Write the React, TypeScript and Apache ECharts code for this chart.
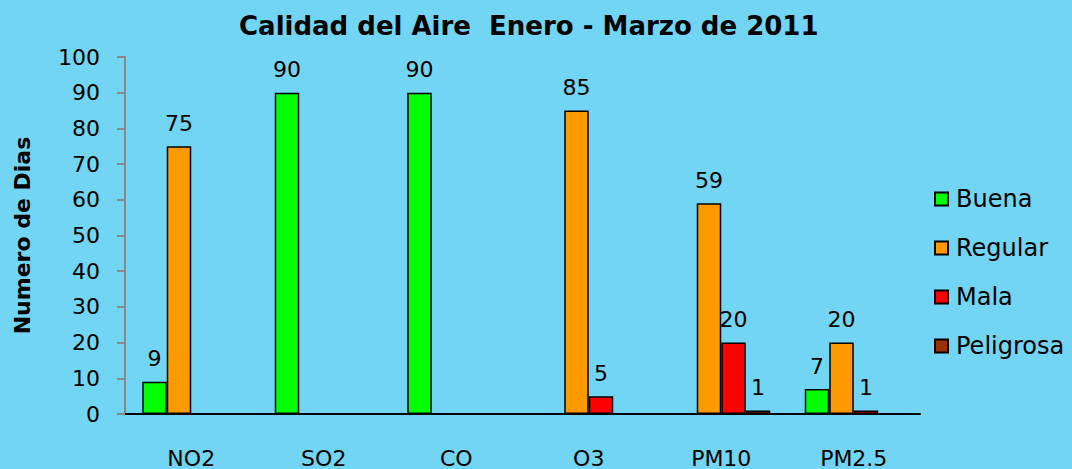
import React, { useEffect, useRef } from "react";
import * as echarts from "echarts";

const categories = ["NO2", "SO2", "CO", "O3", "PM10", "PM2.5"];
const buena = [9, 90, 90, 0, 0, 7];
const regular = [75, 0, 0, 85, 59, 20];
const mala = [0, 0, 0, 5, 20, 1];
const peligrosa = [0, 0, 0, 0, 1, 0];
const seriesNames = ["Buena", "Regular", "Mala", "Peligrosa"];
const seriesColors = ["#00FF00", "#FF9900", "#FF0000", "#993300"];
const yTicks = { min: 0, max: 100, interval: 10 };
const titleText = "Calidad del Aire  Enero - Marzo de 2011";
const yAxisName = "Numero de Dias";

const FONT = "DejaVu Sans";

export default function App() {
  const ref = useRef<HTMLDivElement>(null);
  useEffect(() => {
    if (!ref.current) return;
    const chart = echarts.init(ref.current, null, { renderer: "svg" });
    const all = [buena, regular, mala, peligrosa];
    chart.setOption({
      animation: false,
      backgroundColor: "#71D5F3",
      title: {
        text: titleText,
        left: 234,
        top: 8,
        textStyle: { fontFamily: FONT, fontSize: 26, fontWeight: "bold", color: "#000" },
      },
      legend: {
        orient: "vertical",
        left: 929,
        top: 182,
        itemWidth: 13,
        itemHeight: 13,
        itemGap: 25,
        icon: "rect",
        textStyle: { fontFamily: FONT, fontSize: 24, color: "#000", padding: [4, 0, 0, 3] },
        data: seriesNames,
      },
      grid: { left: 125, right: 152, top: 57, bottom: 55, containLabel: false },
      xAxis: {
        type: "category",
        data: categories,
        axisLine: { lineStyle: { color: "#000", width: 2 } },
        axisTick: { show: false },
        axisLabel: { fontFamily: FONT, fontSize: 22, color: "#000", margin: 33 },
      },
      yAxis: {
        type: "value",
        min: yTicks.min,
        max: yTicks.max,
        interval: yTicks.interval,
        name: yAxisName,
        nameLocation: "middle",
        nameRotate: 90,
        nameGap: 92,
        nameTextStyle: { fontFamily: FONT, fontSize: 22, fontWeight: "bold", color: "#000" },
        splitLine: { show: false },
        axisLine: { show: true, lineStyle: { color: "#888", width: 2 } },
        axisTick: { show: true, length: 8, lineStyle: { color: "#888", width: 2 } },
        axisLabel: { fontFamily: FONT, fontSize: 22, color: "#000", margin: 25 },
      },
      series: seriesNames.map((name, i) => ({
        name,
        type: "bar",
        barWidth: 24.5,
        barGap: "0%",
        data: all[i].map((v) => (v === 0 ? "-" : v)),
        itemStyle: { color: seriesColors[i], borderColor: "#000", borderWidth: 1.5 },
        label: {
          show: true,
          position: "top",
          distance: 12,
          fontFamily: FONT,
          fontSize: 22,
          color: "#000",
        },
      })),
    });
    return () => chart.dispose();
  }, []);
  return (
    <div
      ref={ref}
      style={{ position: "fixed", left: 0, top: 0, width: 1072, height: 469 }}
    />
  );
}
